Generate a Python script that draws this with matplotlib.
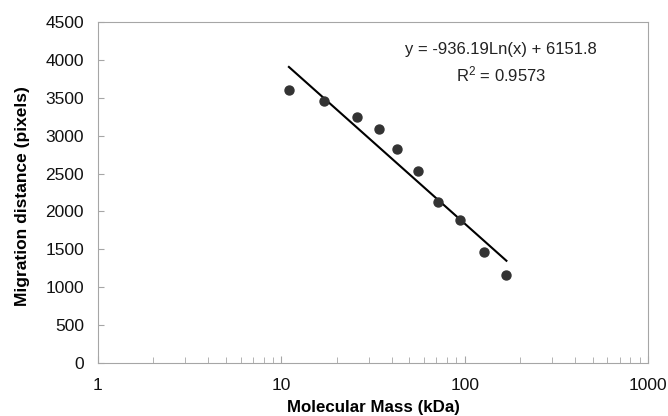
import matplotlib.pyplot as plt
from matplotlib.ticker import FixedLocator, LogLocator, NullFormatter
import numpy as np

plt.rcParams['font.family'] = ['Liberation Sans', 'DejaVu Sans']

# molecular mass standards (kDa) and measured migration distance (pixels)
mass = [11, 17, 26, 34, 42.5, 55.5, 71.5, 94, 128, 169]
distance = [3600, 3460, 3250, 3085, 2825, 2535, 2130, 1885, 1470, 1160]

# logarithmic trendline y = a*ln(x) + b
slope = -936.19
intercept = 6151.8
r2 = 0.9573

fig = plt.figure(figsize=(6.68, 4.16), dpi=100)
ax = fig.add_axes([0.1467, 0.1274, 0.8233, 0.8197])

ax.scatter(mass, distance, s=42, color='#333333', zorder=3)

xfit = np.linspace(min(mass), max(mass), 100)
ax.plot(xfit, slope * np.log(xfit) + intercept, color='black', lw=1.5)

ax.set_xscale('log')
ax.set_xlim(1, 1000)
ax.set_ylim(0, 4500)
ax.yaxis.set_major_locator(FixedLocator(np.arange(0, 4501, 500)))
ax.xaxis.set_major_locator(FixedLocator([1, 10, 100, 1000]))
ax.xaxis.set_major_formatter(plt.FuncFormatter(lambda v, p: '%d' % v))
ax.xaxis.set_minor_locator(LogLocator(base=10, subs=np.arange(2, 10)))
ax.xaxis.set_minor_formatter(NullFormatter())

for s in ax.spines.values():
    s.set_color('#a6a6a6')
ax.tick_params(axis='both', which='both', direction='in', color='#a6a6a6',
               labelsize=12.5, labelcolor='#111111')
ax.tick_params(axis='x', which='major', length=5, pad=11)
ax.tick_params(axis='x', which='minor', length=4)
ax.tick_params(axis='y', length=4, pad=10)

ax.set_xlabel('Molecular Mass (kDa)', fontsize=12.2, fontweight='bold', va='top')
ax.xaxis.set_label_coords(0.5, -0.108)
ax.set_ylabel('Migration distance (pixels)', fontsize=12.5, fontweight='bold')
ax.yaxis.set_label_coords(-0.124, 0.49)

ax.text(0.733, 0.88, 'y = -936.19Ln(x) + 6151.8\n$\\mathregular{R^2}$ = %.4f' % r2,
        transform=ax.transAxes, ha='center', va='center', fontsize=12,
        linespacing=1.45, color='#222222')

fig.savefig('out.png', dpi=100)
